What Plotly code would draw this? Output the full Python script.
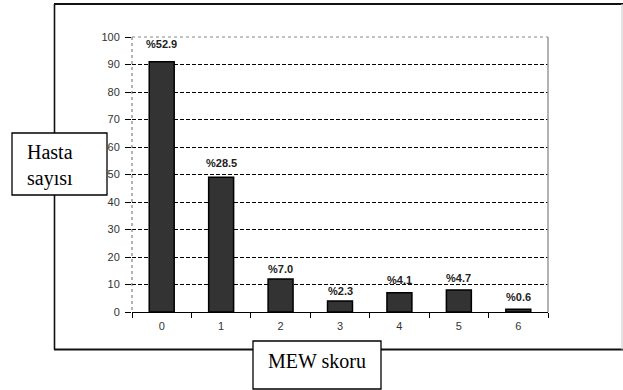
import plotly.graph_objects as go

# MEW score distribution
scores = ["0", "1", "2", "3", "4", "5", "6"]
patients = [91, 49, 12, 4, 7, 8, 1]
percent_labels = ["%52.9", "%28.5", "%7.0", "%2.3", "%4.1", "%4.7", "%0.6"]
label_lift = [10, 6, 2, 2, 5, 4, 4]  # extra px above each bar top
y_ticks = [0, 10, 20, 30, 40, 50, 60, 70, 80, 90, 100]

W, H = 623, 390
PL, PR, PT, PB = 132, 548, 37, 312  # plot area in pixels


def px(x):
    return (x - PL) / (PR - PL)


def py(y):
    return (PB - y) / (PB - PT)


fig = go.Figure()
fig.add_trace(go.Bar(
    x=scores, y=patients, width=0.42,
    marker=dict(color="#333333", line=dict(color="#000000", width=1.5)),
    hoverinfo="skip",
))

annotations = []
for s, v, t, dy in zip(scores, patients, percent_labels, label_lift):
    annotations.append(dict(
        x=s, y=v, xref="x", yref="y", text=f"<b>{t}</b>", showarrow=False,
        yanchor="bottom", yshift=dy,
        font=dict(family="Liberation Sans, Arial", size=11, color="#222222"),
    ))


def seg(x0, y0, x1, y1, color, width, dash="solid"):
    return dict(type="line", xref="paper", yref="paper",
                x0=px(x0), y0=py(y0), x1=px(x1), y1=py(y1),
                line=dict(color=color, width=width, dash=dash), layer="above")


shapes = [
    # outer frame
    seg(54, 4, 623, 4, "#111111", 2.2),
    seg(54, 349.5, 623, 349.5, "#111111", 2.2),
    seg(54.5, 4, 54.5, 349.5, "#111111", 1.6),
    seg(622, 4, 622, 349.5, "#d0d0d0", 1.2),
    # plot border: dotted left/top, solid grey right
    seg(PL, PT, PR, PT, "#ffffff", 2),
    seg(PL, PT, PR, PT, "#888888", 1, "dot"),
    seg(PL, PT, PL, PB, "#666666", 1, "dot"),
    seg(PR, PT, PR, PB, "#999999", 1.5),
]
# axis title boxes
shapes.append(dict(type="rect", xref="paper", yref="paper",
                   x0=px(12), x1=px(107), y0=py(195), y1=py(133),
                   fillcolor="#ffffff", line=dict(color="#000000", width=1.3), layer="above"))
shapes.append(dict(type="rect", xref="paper", yref="paper",
                   x0=px(253), x1=px(381), y0=py(389), y1=py(341),
                   fillcolor="#ffffff", line=dict(color="#000000", width=1.3), layer="above"))

serif = dict(family="Liberation Serif, Times New Roman", size=20, color="#000000")
annotations += [
    dict(x=px(25), y=py(152), xref="paper", yref="paper", text="Hasta", showarrow=False,
         xanchor="left", yanchor="middle", font=serif),
    dict(x=px(25), y=py(178), xref="paper", yref="paper", text="sayısı", showarrow=False,
         xanchor="left", yanchor="middle", font=serif),
    dict(x=px(317), y=py(361), xref="paper", yref="paper", text="MEW skoru", showarrow=False,
         xanchor="center", yanchor="middle", font=serif),
]

tick_font = dict(family="Liberation Sans, Arial", size=11, color="#333333")
fig.update_layout(
    width=W, height=H,
    margin=dict(l=PL, r=W - PR, t=PT, b=H - PB),
    paper_bgcolor="#ffffff", plot_bgcolor="#ffffff",
    showlegend=False,
    annotations=annotations, shapes=shapes,
    xaxis=dict(type="category", range=[-0.5, 6.5], tickson="boundaries",
               ticks="outside", ticklen=5, tickcolor="#000000",
               showline=True, linecolor="#000000", linewidth=1.3,
               showgrid=False, tickfont=tick_font, ticklabelstandoff=4,
               fixedrange=True),
    yaxis=dict(range=[0, 100], tickvals=y_ticks, ticks="outside", ticklen=6,
               tickcolor="#000000", showline=False, zeroline=False,
               showgrid=True, gridcolor="#000000", gridwidth=1,
               griddash="4px,2px", tickfont=tick_font, ticklabelstandoff=3,
               fixedrange=True),
)

fig.write_html("out.html")
